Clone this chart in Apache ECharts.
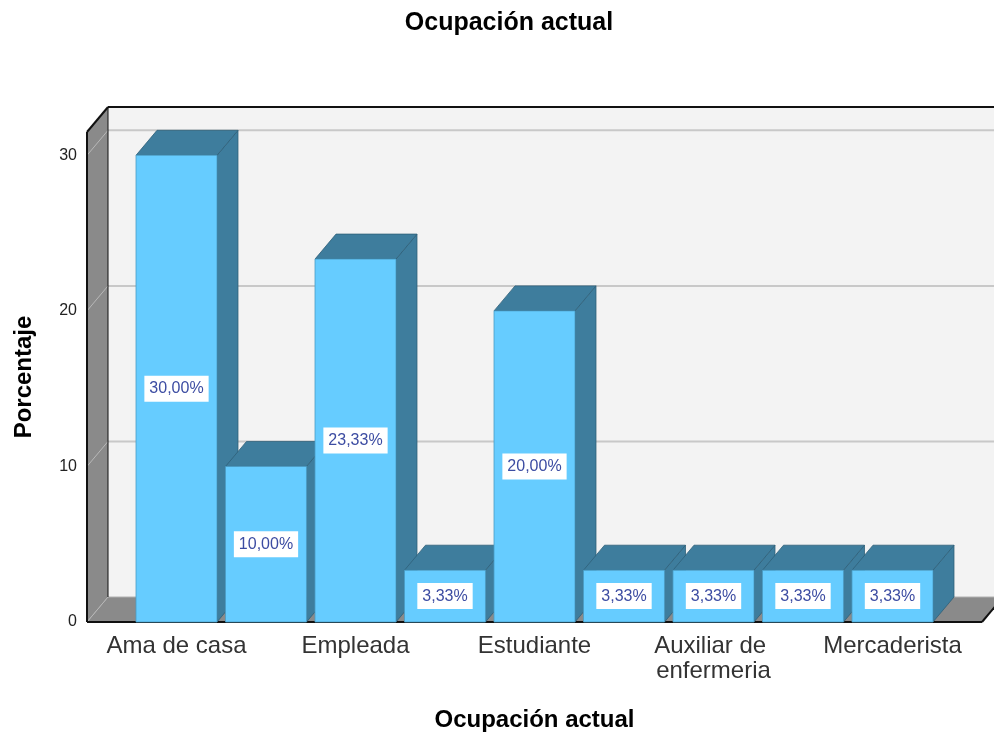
<!DOCTYPE html>
<html>
<head>
<meta charset="utf-8">
<title>Ocupación actual</title>
<script src="https://cdn.jsdelivr.net/npm/echarts@6/dist/echarts.min.js"></script>
<style>
  html, body { margin: 0; padding: 0; background: #ffffff; }
  #chart { width: 994px; height: 740px; }
</style>
</head>
<body>
<div id="chart"></div>
<script>
// Occupation categories (every second one is labelled on the axis)
const categories = [
  'Ama de casa', 'Comerciante', 'Empleada', 'Independiente', 'Estudiante',
  'Desempleada', 'Auxiliar de enfermeria', 'Estilista', 'Mercaderista'
];
// Percentage of respondents per occupation
const percentages = [30.00, 10.00, 23.33, 3.33, 20.00, 3.33, 3.33, 3.33, 3.33];
// Value-axis tick labels
const yTicks = [0, 10, 20, 30];

// Pseudo-3D look: depth offset of the back plane, bar width as a share of a slot
const DEPTH_X = 21;
const DEPTH_Y = -25;
const BAR_RATIO = 0.905;
const FONT = '"Liberation Sans", Arial, sans-serif';

const FRONT = '#66ccff';
const SHADE = '#3e7d9d';
const EDGE = '#2e5f78';

function renderFrame(params, api) {
  const cs = params.coordSys;
  const x0 = cs.x, x1 = cs.x + cs.width;
  const yTop = cs.y, yBot = cs.y + cs.height;
  const dx = DEPTH_X, dy = DEPTH_Y;
  const kids = [];

  // back wall
  kids.push({ type: 'rect', shape: { x: x0 + dx, y: yTop + dy, width: cs.width, height: cs.height },
    style: { fill: '#f3f3f3' } });
  yTicks.forEach(function (v) {
    if (v === 0) return;
    const y = api.coord([0, v])[1] + dy;
    kids.push({ type: 'line', shape: { x1: x0 + dx, y1: y, x2: x1 + dx, y2: y },
      style: { stroke: '#c8c8c8', lineWidth: 2 } });
  });

  // floor
  kids.push({ type: 'polygon',
    shape: { points: [[x0, yBot], [x0 + dx, yBot + dy], [x1 + dx, yBot + dy], [x1, yBot]] },
    style: { fill: '#8a8a8a' } });
  kids.push({ type: 'line', shape: { x1: x0 + dx, y1: yBot + dy, x2: x1 + dx, y2: yBot + dy },
    style: { stroke: '#b0b0b0', lineWidth: 1 } });

  // left wall
  kids.push({ type: 'polygon',
    shape: { points: [[x0, yTop], [x0 + dx, yTop + dy], [x0 + dx, yBot + dy], [x0, yBot]] },
    style: { fill: '#8a8a8a' } });
  yTicks.forEach(function (v) {
    const y = api.coord([0, v])[1];
    kids.push({ type: 'line', shape: { x1: x0, y1: y, x2: x0 + dx, y2: y + dy },
      style: { stroke: '#b8b8b8', lineWidth: 1 } });
  });

  // frame edges
  const edge = function (ax, ay, bx, by, w) {
    kids.push({ type: 'line', shape: { x1: ax, y1: ay, x2: bx, y2: by },
      style: { stroke: '#111111', lineWidth: w } });
  };
  edge(x0 + dx, yTop + dy, x0 + dx, yBot + dy, 1);
  edge(x0 + dx, yTop + dy, x1 + dx + 5, yTop + dy, 2);
  edge(x0, yTop, x0 + dx, yTop + dy, 2);
  edge(x0, yTop, x0, yBot, 2);
  edge(x0, yBot, x1, yBot, 2);
  edge(x1, yBot, x1 + dx, yBot + dy, 2);

  return { type: 'group', children: kids };
}

function renderBar(params, api) {
  const idx = api.value(0);
  const v = api.value(1);
  const base = api.coord([idx, 0]);
  const top = api.coord([idx, v]);
  const w = api.size([1, 0])[0] * BAR_RATIO;
  const xl = base[0] - w / 2, xr = base[0] + w / 2;
  const yb = base[1], yt = top[1];
  const dx = DEPTH_X, dy = DEPTH_Y;
  const label = v.toFixed(2).replace('.', ',') + '%';

  return {
    type: 'group',
    children: [
      { type: 'polygon',
        shape: { points: [[xr, yt], [xr + dx, yt + dy], [xr + dx, yb + dy], [xr, yb]] },
        style: { fill: SHADE, stroke: EDGE, lineWidth: 0.8 } },
      { type: 'polygon',
        shape: { points: [[xl, yt], [xl + dx, yt + dy], [xr + dx, yt + dy], [xr, yt]] },
        style: { fill: SHADE, stroke: EDGE, lineWidth: 0.8 } },
      { type: 'rect',
        shape: { x: xl, y: yt, width: w, height: yb - yt },
        style: { fill: FRONT, stroke: '#4a9cc4', lineWidth: 0.8 } },
      { type: 'text',
        style: {
          text: label, x: base[0], y: (yt + yb) / 2,
          align: 'center', verticalAlign: 'middle',
          fill: '#3c4ca2', font: '16px ' + FONT,
          backgroundColor: '#ffffff', padding: [5, 5, 5, 5]
        } }
    ]
  };
}

const chart = echarts.init(document.getElementById('chart'), null, { renderer: 'canvas' });

chart.setOption({
  backgroundColor: '#ffffff',
  animation: false,
  title: {
    text: 'Ocupación actual',
    left: 504,
    textAlign: 'center',
    top: 6,
    textStyle: { fontFamily: FONT, fontSize: 25, fontWeight: 'bold', color: '#000000' }
  },
  grid: { left: 87, right: 12, top: 132, bottom: 118, containLabel: false, outerBoundsMode: 'none' },
  xAxis: {
    type: 'value',
    min: -1,
    max: 9,
    interval: 1,
    name: 'Ocupación actual',
    nameLocation: 'middle',
    nameGap: 86,
    nameTextStyle: { fontFamily: FONT, fontSize: 24, fontWeight: 'bold', color: '#000000' },
    axisLine: { show: false },
    axisTick: { show: false },
    splitLine: { show: false },
    axisLabel: {
      margin: 12,
      fontFamily: FONT,
      fontSize: 24,
      color: '#333333',
      width: 170,
      overflow: 'break',
      lineHeight: 25,
      formatter: function (v) {
        return (Number.isInteger(v) && v >= 0 && v < categories.length && v % 2 === 0)
          ? categories[v] : '';
      }
    }
  },
  yAxis: {
    type: 'value',
    min: 0,
    max: 31.5,
    interval: 10,
    name: 'Porcentaje',
    nameLocation: 'middle',
    nameGap: 51,
    nameTextStyle: { fontFamily: FONT, fontSize: 24, fontWeight: 'bold', color: '#000000' },
    axisLine: { show: false },
    axisTick: { show: false },
    splitLine: { show: false },
    axisLabel: {
      margin: 10,
      fontFamily: FONT,
      fontSize: 16,
      color: '#222222',
      formatter: function (v) { return yTicks.indexOf(v) >= 0 ? String(v) : ''; }
    }
  },
  series: [
    {
      type: 'custom',
      name: 'frame',
      renderItem: renderFrame,
      clip: false,
      silent: true,
      z: 1,
      data: [[0, 0]]
    },
    {
      type: 'custom',
      name: 'Porcentaje',
      renderItem: renderBar,
      clip: false,
      z: 2,
      data: percentages.map(function (p, i) { return [i, p]; })
    }
  ]
});
</script>
</body>
</html>
